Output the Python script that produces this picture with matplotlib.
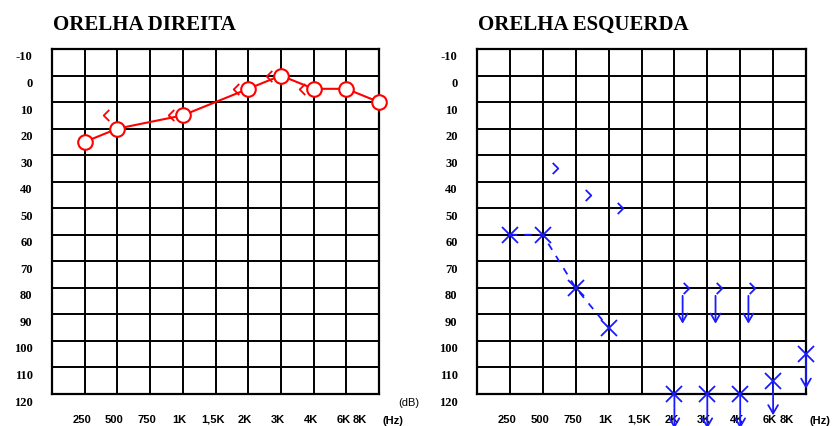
import matplotlib
matplotlib.use('Agg')
import matplotlib.pyplot as plt
from matplotlib.path import Path
from matplotlib.transforms import ScaledTranslation

# ---------------- data ----------------
freq_labels = ['250', '500', '750', '1K', '1,5K', '2K', '3K', '4K', '6K', '8K']
db_ticks = [-10, 0, 10, 20, 30, 40, 50, 60, 70, 80, 90, 100, 110, 120]

# Orelha direita (red)
right_air_freq = ['250', '500', '1K', '2K', '3K', '4K', '6K', '8K']
right_air_db = [25, 20, 15, 5, 0, 5, 5, 10]
right_bone_freq = ['500', '1K', '2K', '3K', '4K']
right_bone_db = [15, 15, 5, 0, 5]

# Orelha esquerda (blue)
left_air_freq = ['250', '500', '750', '1K']
left_air_db = [60, 60, 80, 95]
left_air_nr_freq = ['2K', '3K', '4K', '6K', '8K']
left_air_nr_db = [120, 120, 120, 115, 105]
left_bone_freq = ['500', '750', '1K']
left_bone_db = [35, 45, 50]
left_bone_nr_freq = ['2K', '3K', '4K']
left_bone_nr_db = [80, 80, 80]

titles = ['ORELHA DIREITA', 'ORELHA ESQUERDA']


def pos(f):
    return freq_labels.index(f) + 1


right_chev = Path([(0.5, 1), (-0.5, 0), (0.5, -1)], [Path.MOVETO, Path.LINETO, Path.LINETO])
left_chev = Path([(-0.5, 1), (0.5, 0), (-0.5, -1)], [Path.MOVETO, Path.LINETO, Path.LINETO])

W, H = 835, 426
fig = plt.figure(figsize=(W / 100, H / 100), dpi=100)
fig.patch.set_facecolor('white')

ax_boxes = [(52, 49, 379, 394), (477, 49, 806, 394)]
axes = []
for (x0, y0, x1, y1) in ax_boxes:
    ax = fig.add_axes([x0 / W, 1 - y1 / H, (x1 - x0) / W, (y1 - y0) / H])
    axes.append(ax)

for i, ax in enumerate(axes):
    ax.set_xlim(0, 10)
    ax.set_ylim(120, -10)
    ax.set_xticks(range(1, 11))
    ax.set_xticklabels(freq_labels, fontsize=8, family='Liberation Sans', fontweight='bold')
    ax.set_yticks(db_ticks)
    ax.set_yticklabels([str(v) for v in db_ticks], fontsize=9,
                       family='Liberation Serif', fontweight='bold')
    ax.tick_params(axis='both', length=0)
    ax.tick_params(axis='y', pad=14)
    ax.tick_params(axis='x', pad=15)
    ax.grid(True, color='black', linewidth=1.4)
    ax.set_axisbelow(True)
    for sp in ax.spines.values():
        sp.set_linewidth(1.6)
        sp.set_color('black')
    for lab in ax.get_yticklabels():
        lab.set_transform(lab.get_transform() + ScaledTranslation(0, -7 / 100, fig.dpi_scale_trans))
    xlabs = ax.get_xticklabels()
    for k, lab in enumerate(xlabs):
        dx = -19 if k == len(xlabs) - 1 else -3
        lab.set_transform(lab.get_transform() + ScaledTranslation(dx / 100, 0, fig.dpi_scale_trans))
    ax.text(10, 120, '(Hz)', transform=ax.transData + ScaledTranslation(14 / 100, -27 / 100, fig.dpi_scale_trans),
            fontsize=8, family='Liberation Sans', fontweight='bold', ha='center', va='center')
    fig.text((ax_boxes[i][0] + 1) / W, 1 - 25 / H, titles[i], fontsize=15,
             family='Liberation Serif', fontweight='bold', ha='left', va='center')

fig.text(409 / W, 1 - 403 / H, '(dB)', fontsize=8, family='Liberation Sans', ha='center', va='center')

# ---- right ear (red) ----
ax = axes[0]
red = '#ff0000'
ax.plot([pos(f) for f in right_air_freq], right_air_db, color=red, lw=1.5,
        marker='o', markersize=10.5, markerfacecolor='white', markeredgecolor=red,
        markeredgewidth=1.5, zorder=5, clip_on=False)
ax.plot([pos(f) - 0.36 for f in right_bone_freq], right_bone_db, linestyle='none',
        marker=right_chev, markersize=8, markerfacecolor='none', markeredgecolor=red,
        markeredgewidth=1.3, zorder=4)

# ---- left ear (blue) ----
ax = axes[1]
blue = '#1a1aff'
ax.plot([pos(f) for f in left_air_freq], left_air_db, color=blue, lw=1.3,
        linestyle=(0, (4, 4)), marker='x', markersize=11, markeredgewidth=1.3,
        markeredgecolor=blue, zorder=5)
ax.plot([pos(f) for f in left_air_nr_freq], left_air_nr_db, linestyle='none',
        marker='x', markersize=11, markeredgewidth=1.3, color=blue, zorder=5, clip_on=False)
for f, d in zip(left_air_nr_freq, left_air_nr_db):
    ax.annotate('', xy=(pos(f), d + 13), xytext=(pos(f), d),
                arrowprops=dict(arrowstyle='->,head_length=0.6,head_width=0.35',
                                color=blue, lw=1.3, shrinkA=0, shrinkB=0),
                annotation_clip=False, zorder=5)
ax.plot([pos(f) + 0.36 for f in left_bone_freq], left_bone_db, linestyle='none',
        marker=left_chev, markersize=8, markerfacecolor='none', markeredgecolor=blue,
        markeredgewidth=1.3, zorder=4)
ax.plot([pos(f) + 0.36 for f in left_bone_nr_freq], left_bone_nr_db, linestyle='none',
        marker=left_chev, markersize=8, markerfacecolor='none', markeredgecolor=blue,
        markeredgewidth=1.3, zorder=4)
for f, d in zip(left_bone_nr_freq, left_bone_nr_db):
    ax.annotate('', xy=(pos(f) + 0.25, d + 13.5), xytext=(pos(f) + 0.25, d + 3),
                arrowprops=dict(arrowstyle='->,head_length=0.6,head_width=0.35',
                                color=blue, lw=1.3, shrinkA=0, shrinkB=0),
                annotation_clip=False, zorder=5)

fig.savefig('out.png', dpi=100, facecolor='white')
